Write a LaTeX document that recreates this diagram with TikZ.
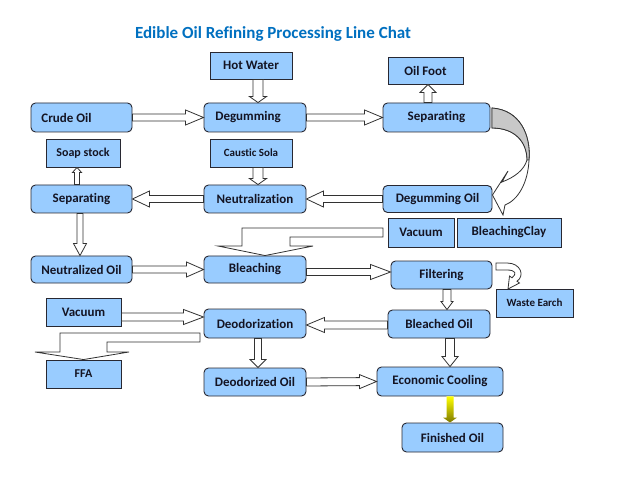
\documentclass[tikz,border=0pt]{standalone}
\usepackage{fontspec}
\setmainfont{Carlito}[Ligatures=NoCommon]
\usetikzlibrary{positioning,calc}

\definecolor{boxblue}{RGB}{153,204,255}
\definecolor{boxline}{RGB}{40,40,50}
\definecolor{labeltext}{RGB}{20,20,35}
\definecolor{arrowline}{RGB}{50,50,50}
\definecolor{titleblue}{RGB}{0,112,192}
\definecolor{backgray}{RGB}{200,200,200}
\definecolor{darkolive}{RGB}{125,120,0}

\tikzset{
  proc/.style={draw=boxline, fill=boxblue, line width=0.9pt, rounded corners=4.5pt,
    minimum height=28pt, inner sep=0pt, text=labeltext,
    font=\bfseries\fontsize{13}{15}\selectfont},
  feed/.style={proc, sharp corners},
  sw/.store in=\shaftw, hw/.store in=\headw, hl/.store in=\headl,
  sw=3.5, hw=7.5, hl=17,
  block/.style={draw=arrowline, fill=white, line width=0.8pt, line join=miter,
    to path={let \p1=(\tikztostart), \p2=(\tikztotarget),
      \n1={atan2(\y2-\y1,\x2-\x1)}, \n2={veclen(\x2-\x1,\y2-\y1)} in
      ($(\p1)+(\n1+90:\shaftw)$)
      -- ($(\p1)+(\n1:\n2-\headl)+(\n1+90:\shaftw)$)
      -- ($(\p1)+(\n1:\n2-\headl)+(\n1+90:\headw)$)
      -- (\p2)
      -- ($(\p1)+(\n1:\n2-\headl)+(\n1-90:\headw)$)
      -- ($(\p1)+(\n1:\n2-\headl)+(\n1-90:\shaftw)$)
      -- ($(\p1)+(\n1-90:\shaftw)$) -- cycle}},
  yblock/.style={block, draw=none, top color=yellow, bottom color=darkolive},
  bent/.style={draw=arrowline, fill=white, line width=0.8pt, line join=miter}
}

\begin{document}
\begin{tikzpicture}[x=1pt, y=1pt]
  \fill[white] (0,0) rectangle (640,480);
  \useasboundingbox (0,0) rectangle (640,480);

  % Title
  \node[text=titleblue, font=\bfseries\fontsize{17}{20}\selectfont] (title) at (273,446) {Edible Oil Refining Processing Line Chat};

  % Boxes
  \node[feed, minimum width=82pt, minimum height=27pt] (hot) at (251,414.5) {Hot Water};
  \node[feed, minimum width=75pt, minimum height=27pt] (foot) at (425.5,409.5) {Oil Foot};
  \node[proc, minimum width=101pt, minimum height=29pt] (crude) at (81.5,362.5) {Crude Oil\hspace*{30pt}};
  \node[proc, minimum width=102pt, minimum height=29pt] (degum) at (255,362.5) {Degumming\hspace*{14pt}};
  \node[proc, minimum width=107pt, minimum height=29pt] (sepR) at (436.5,362.5) {Separating};
  \node[feed, minimum width=74pt, font=\bfseries\fontsize{12}{14}\selectfont] (soap) at (83,327) {Soap stock};
  \node[feed, minimum width=82pt, font=\bfseries\fontsize{11}{13}\selectfont] (caustic) at (251,327) {Caustic Sola};
  \node[proc, minimum width=101pt] (sepL) at (81.5,281) {Separating};
  \node[proc, minimum width=102pt] (neutr) at (255,281) {Neutralization};
  \node[proc, minimum width=109pt, minimum height=27pt] (dgoil) at (437.5,281) {Degumming Oil};
  \node[feed, minimum width=66pt, minimum height=29pt] (vacR) at (421,247.5) {Vacuum};
  \node[feed, minimum width=104pt, minimum height=29pt] (clay) at (509,247.5) {BleachingClay};
  \node[proc, minimum width=101pt, minimum height=27pt] (neutoil) at (81.5,210.5) {Neutralized Oil};
  \node[proc, minimum width=102pt, minimum height=27pt] (bleach) at (255,210.5) {Bleaching};
  \node[proc, minimum width=101pt] (filter) at (441.5,205) {Filtering};
  \node[feed, minimum width=77pt, font=\bfseries\fontsize{11}{13}\selectfont] (waste) at (534.5,177) {Waste Earch};
  \node[feed, minimum width=75pt] (vacL) at (83.5,168) {Vacuum};
  \node[proc, minimum width=102pt, minimum height=29pt] (deodor) at (255,156.5) {Deodorization};
  \node[proc, minimum width=102pt] (bleached) at (439,156) {Bleached Oil};
  \node[feed, minimum width=75pt, font=\bfseries\fontsize{12}{14}\selectfont] (ffa) at (83.5,106) {FFA};
  \node[proc, minimum width=102pt] (deodorized) at (255,98) {Deodorized Oil};
  \node[proc, minimum width=126pt, minimum height=29pt] (cooling) at (440,98.5) {Economic Cooling};
  \node[proc, minimum width=101pt, minimum height=29pt] (finished) at (452.5,42.5) {Finished Oil};

  % Straight arrows
  \draw[block, sw=5, hw=8.5, hl=6] ([xshift=7pt]hot.south) to ([xshift=3pt]degum.north);
  \draw[block, hl=18] (crude.east) to (degum.west);
  \draw[block, hl=18] (degum.east) to (sepR.west);
  \draw[block, sw=4, hw=8, hl=8] ([xshift=-8.5pt]sepR.north) to ([xshift=2.5pt]foot.south);
  \draw[block, sw=2.5, hw=4.5, hl=5] ([xshift=-4.5pt]sepL.north) to ([xshift=-6pt]soap.south);
  \draw[block, sw=5, hw=8.5, hl=6] ([xshift=7pt]caustic.south) to ([xshift=3pt]neutr.north);
  \draw[block, hw=8] (neutr.west) to (sepL.east);
  \draw[block, hw=8] (dgoil.west) to (neutr.east);
  \draw[block, sw=3, hw=6.5, hl=12] ([xshift=-1.5pt]sepL.south) to ([xshift=-1.5pt]neutoil.north);
  \draw[block] (neutoil.east) to (bleach.west);
  \draw[block, hl=20] ([yshift=-2.5pt]bleach.east) to ([yshift=3pt]filter.west);
  \draw[block, sw=4, hw=6, hl=8] ([xshift=5.5pt]filter.south) to ([xshift=8pt]bleached.north);
  \draw[block, sw=4, hl=18] ([yshift=-1pt]bleached.west) to ([yshift=-1.5pt]deodor.east);
  \draw[block, sw=4.5, hw=8, hl=10] ([xshift=11pt]bleached.south) to ([xshift=10pt]cooling.north);
  \draw[block, sw=4, hl=20] ([yshift=-5pt]vacL.east) to ([yshift=6.5pt]deodor.west);
  \draw[block, hw=8, hl=8] ([xshift=3pt]deodor.south) to ([xshift=3pt]deodorized.north);
  \draw[block, sw=4, hw=7] (deodorized.east) to (cooling.west);
  \path[yblock, sw=3.5, hw=7, hl=5] ([xshift=10pt]cooling.south) to ([xshift=-2.5pt]finished.north);

  % Bent arrows
  \draw[bent] (383,252) -- (242,252) -- (242,234) -- (218,234) -- ([xshift=10pt]bleach.north)
    -- (313,234) -- (290,234) -- (290,243) -- (383,243) -- cycle;
  \draw[bent] (200,147) -- (60,147) -- (60,128) -- (35,128) -- (ffa.north)
    -- (129,128) -- (107,128) -- (107,138) -- (200,138) -- cycle;

  % Curved arrow to Degumming Oil
  \draw[bent] (492,372) .. controls (520,370) and (531,345) .. (529,320)
    .. controls (528,297) and (518,280) .. (505,275) -- (503,265) -- ([yshift=4pt]dgoil.east)
    -- (508,309) -- (502,298) .. controls (515,303) and (524,310) .. (527,320)
    .. controls (527,338) and (515,352) .. (492,352) -- cycle;
  \draw[bent, fill=backgray] (492,372) .. controls (520,370) and (531,345) .. (529,320)
    -- (527,320) .. controls (527,338) and (515,352) .. (492,352) -- cycle;

  % Curl to Waste Earch
  \draw[bent] (496,217) -- (507,217) .. controls (521,217) and (525,204) .. (517,198.8)
    -- (519.5,197) -- (508,191) -- (509.5,204) -- (512,202.2)
    .. controls (517,206) and (516,210) .. (507,210) -- (496,210) -- cycle;
\end{tikzpicture}
\end{document}
